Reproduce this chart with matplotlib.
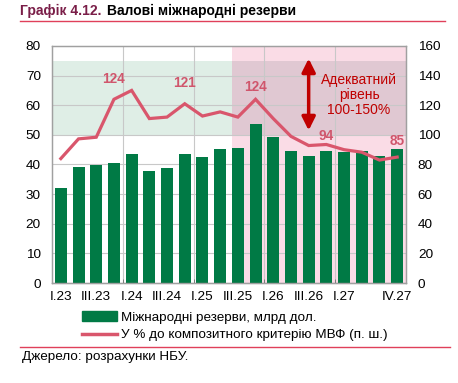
import matplotlib
matplotlib.use("Agg")
import matplotlib.pyplot as plt
from matplotlib.patches import Patch, Rectangle
from matplotlib.lines import Line2D
import numpy as np

plt.rcParams['font.family'] = ['Liberation Sans', 'DejaVu Sans']

quarters = ["I.23", "II.23", "III.23", "IV.23", "I.24", "II.24", "III.24", "IV.24",
            "I.25", "II.25", "III.25", "IV.25", "I.26", "II.26", "III.26", "IV.26",
            "I.27", "II.27", "III.27", "IV.27"]
reserves = [32, 39, 39.7, 40.4, 43.7, 37.9, 38.8, 43.7, 42.4, 45.1,
            45.5, 53.7, 49.4, 44.7, 42.8, 44.6, 44.3, 44.5, 42.8, 45.2]
ratio = [84, 97.3, 98.4, 124, 130, 111, 112, 121, 112.7, 115.5,
         112, 124, 111, 99, 92.8, 93.5, 90, 88.3, 83, 85]
shown_labels = {3: "124", 7: "121", 11: "124", 15: "94", 19: "85"}
label_y = {3: 137.5, 7: 135, 11: 132, 15: 99, 19: 96}
tick_idx = [0, 2, 4, 6, 8, 10, 12, 14, 16, 19]

green = "#007A45"
pink_line = "#D9566C"
lbl_col = "#D0566C"
red = "#C00000"
fs = 9.7

fig = plt.figure(figsize=(4.58, 3.83), dpi=100)
ax = fig.add_axes([0.1135, 0.261, 0.773, 0.619])
ax2 = ax.twinx()

x = np.arange(len(quarters))
split = 9.66

# background zones (right axis 100-150 band, forecast area)
ax.add_patch(Rectangle((split, 0), 19.5 - split, 80, color="#FADCE6", zorder=0, lw=0))
ax.add_patch(Rectangle((-0.5, 50), split + 0.5, 25, color="#DFEEE6", zorder=0.1, lw=0))
ax.add_patch(Rectangle((split, 50), 19.5 - split, 25, color="#E0C8D2", zorder=0.1, lw=0))

for yv in range(10, 80, 10):
    ax.axhline(yv, color="#C8C8C8", lw=0.8, zorder=0.5)
for xv in [3.5, 7.5, 11.5, 15.5]:
    ax.axvline(xv, color="#C8C8C8", lw=0.8, zorder=0.5)

ax.bar(x, reserves, width=0.68, color=green, zorder=2)
ax.set_xlim(-0.5, 19.5)
ax.set_ylim(0, 80)
ax.set_yticks(range(0, 81, 10))
ax.set_xticks([x[i] for i in tick_idx])
ax.set_xticklabels([quarters[i] for i in tick_idx])
ax.set_xticks([3.5, 7.5, 11.5, 15.5], minor=True)

ax2.plot(x, ratio, color=pink_line, lw=2.3, zorder=3, solid_joinstyle="miter")
ax2.set_ylim(0, 160)
ax2.set_yticks(range(0, 161, 20))
for i, t in shown_labels.items():
    ax2.text(x[i], label_y[i], t, color=lbl_col, fontsize=9.8, fontweight="bold",
             ha="center", va="center")

ax2.annotate("", xy=(14, 151.5), xytext=(14, 103),
             arrowprops=dict(arrowstyle="<|-|>,head_length=0.8,head_width=0.4",
                             color=red, lw=2.5, shrinkA=0, shrinkB=0))
ax2.text(16.85, 127, "Адекватний\nрівень\n100-150%", color=red, fontsize=10,
         ha="center", va="center", linespacing=1.1)

for a in (ax, ax2):
    for s in a.spines.values():
        s.set_color("#A0A0A0")
        s.set_linewidth(0.9)
    a.tick_params(labelsize=fs, length=0, colors="black")
ax.spines["bottom"].set_color("#707070")
ax.tick_params(axis="x", which="minor", direction="in", length=3, color="#707070")
ax.tick_params(axis="y", pad=8)
ax2.tick_params(axis="y", pad=8.5)
ax.tick_params(axis="x", pad=6)
ax2.set_zorder(ax.get_zorder() + 1)
ax2.patch.set_visible(False)

handles = [Patch(color=green), Line2D([], [], color=pink_line, lw=2.5)]
fig.legend(handles, ["Міжнародні резерви, млрд дол.",
                     "У % до композитного критерію МВФ (п. ш.)"],
           loc="upper left", bbox_to_anchor=(0.178, 0.187), frameon=False,
           fontsize=fs, handlelength=2.6, handletextpad=0.3, labelspacing=0.38,
           borderaxespad=0, borderpad=0)

t1 = fig.text(0.044, 0.972, "Графік 4.12.", color="#7A1E48", fontsize=10,
              fontweight="bold", va="center")
plt.annotate("Валові міжнародні резерви", xy=(1, 0.5), xycoords=t1,
             xytext=(5, 0), textcoords="offset pixels", color="black",
             fontsize=10, fontweight="bold", va="center", ha="left")
fig.add_artist(Line2D([0.044, 0.972], [0.946, 0.946], color="#E0405A", lw=1))
fig.add_artist(Line2D([0.044, 0.982], [0.095, 0.095], color="#E0405A", lw=1))
fig.text(0.048, 0.068, "Джерело: розрахунки НБУ.", fontsize=fs, va="center")

fig.savefig("out.png", dpi=100)
